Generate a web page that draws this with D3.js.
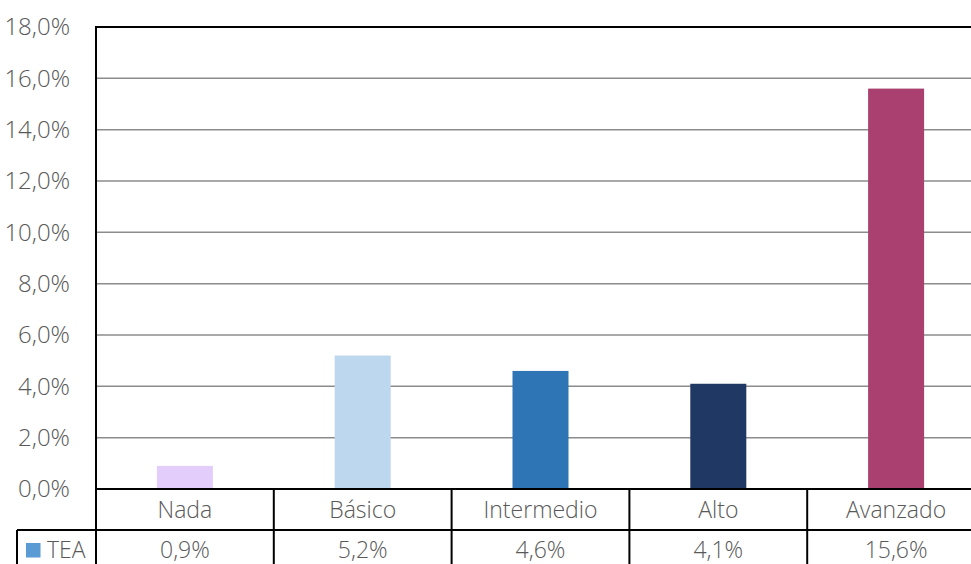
<!DOCTYPE html>
<html><head><meta charset="utf-8">
<script src="https://cdn.jsdelivr.net/npm/d3@7"></script>
<style>
html,body{margin:0;padding:0;background:#fff;}
svg{display:block;}
text{font-family:"Open Sans","Noto Sans",sans-serif;font-weight:300;fill:#595959;}
</style></head><body>
<svg id="c" width="971" height="564"></svg>
<script>
const categories = ["Nada","Básico","Intermedio","Alto","Avanzado"];
const values = [0.9, 5.2, 4.6, 4.1, 15.6];
const valueLabels = ["0,9%","5,2%","4,6%","4,1%","15,6%"];
const barColors = ["#e3cdfb","#bdd7ee","#2e75b6","#203864","#a9406f"];
const yTicks = [0,2,4,6,8,10,12,14,16,18];
const seriesName = "TEA";
const legendColor = "#5b9bd5";

(function(){
const svg = d3.select("#c");
const pLeft = 96, pTop = 27, pBottom = 489, step = 177.8;
const pRight = pLeft + step * categories.length;
const y = d3.scaleLinear().domain([0,18]).range([pBottom, pTop]);
const xCol = d3.scaleBand().domain(categories).range([pLeft, pRight]).padding(0);
const xBar = d3.scaleBand().domain(categories).range([pLeft, pRight]).paddingInner(0.685).paddingOuter(0.3425);
const fmt = v => v.toFixed(1).replace(".", ",") + "%";

// gridlines
svg.append("g").selectAll("line").data(yTicks.filter(t => t > 0 && t < 18)).join("line")
  .attr("x1", pLeft).attr("x2", pRight).attr("y1", d => y(d)).attr("y2", d => y(d))
  .attr("stroke", "#8c8c8c").attr("stroke-width", 1.5);

// bars
svg.append("g").selectAll("rect").data(values).join("rect")
  .attr("x", (d,i) => xBar(categories[i])).attr("width", xBar.bandwidth())
  .attr("y", d => y(d)).attr("height", d => y(0) - y(d))
  .attr("fill", (d,i) => barColors[i]);

// top border
svg.append("line").attr("x1", pLeft).attr("x2", pRight).attr("y1", y(18)).attr("y2", y(18))
  .attr("stroke", "#000").attr("stroke-width", 2);

// y axis labels
svg.append("g").selectAll("text").data(yTicks).join("text")
  .attr("x", 70).attr("y", d => y(d)).attr("dy", "0.35em")
  .attr("text-anchor", "end").attr("font-size", 24)
  .text(fmt);

// data table
const rowTop = 489, rowMid = 530, rowBot = 571, legLeft = 17;
const tbl = svg.append("g").attr("stroke", "#000").attr("stroke-width", 2);
tbl.append("line").attr("x1", pLeft).attr("x2", pLeft).attr("y1", pTop - 1).attr("y2", rowBot);
tbl.append("line").attr("x1", pLeft).attr("x2", pRight).attr("y1", rowTop).attr("y2", rowTop);
tbl.append("line").attr("x1", legLeft).attr("x2", pRight).attr("y1", rowMid).attr("y2", rowMid);
tbl.append("line").attr("x1", legLeft).attr("x2", legLeft).attr("y1", rowMid).attr("y2", rowBot);
tbl.selectAll("line.v").data(categories.slice(1)).join("line").attr("class","v")
  .attr("x1", d => xCol(d)).attr("x2", d => xCol(d)).attr("y1", rowTop).attr("y2", rowBot);
tbl.append("line").attr("x1", pRight).attr("x2", pRight).attr("y1", rowTop).attr("y2", rowBot);

svg.append("g").selectAll("text").data(categories).join("text")
  .attr("x", d => xCol(d) + xCol.bandwidth()/2).attr("y", 509.5).attr("dy", "0.35em")
  .attr("text-anchor", "middle").attr("font-size", 23).text(d => d);
svg.append("g").selectAll("text").data(valueLabels).join("text")
  .attr("x", (d,i) => xCol(categories[i]) + xCol.bandwidth()/2).attr("y", 550).attr("dy", "0.35em")
  .attr("text-anchor", "middle").attr("font-size", 23).text(d => d);

// legend key
svg.append("rect").attr("x", 26).attr("y", 543).attr("width", 14.5).attr("height", 14.5).attr("fill", legendColor);
svg.append("text").attr("x", 47).attr("y", 550).attr("dy", "0.35em").attr("font-size", 23).text(seriesName);
})();
</script>
</body></html>
